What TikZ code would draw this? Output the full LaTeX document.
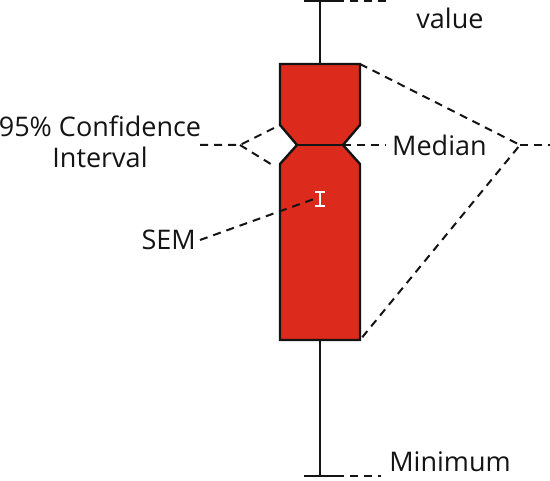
\documentclass[tikz,border=0pt]{standalone}
\usepackage{fontspec}
\setmainfont{Open Sans}
\usepackage{xcolor}
\usetikzlibrary{positioning}
\definecolor{boxred}{RGB}{220,42,28}
\definecolor{inkgray}{RGB}{20,20,20}

\begin{document}
\begin{tikzpicture}[x=1pt,y=-1pt]
    \tikzstyle{label} = [font=\fontsize{27}{31}\selectfont, text=inkgray, inner sep=0pt]
    \tikzstyle{guide} = [draw=inkgray, line width=2pt, dash pattern=on 8pt off 6pt]
    \tikzstyle{outline} = [draw=inkgray, line width=2.4pt]
    \useasboundingbox (0,0) rectangle (550,481);

    % whisker and caps
    \coordinate (maxcap) at (320,1);
    \coordinate (mincap) at (320,476);
    \draw [outline] (maxcap) -- (mincap);
    \draw [outline] ([xshift=-16pt]maxcap) -- ([xshift=16pt]maxcap);
    \draw [outline] ([xshift=-16pt]mincap) -- ([xshift=16pt]mincap);

    % notched box
    \coordinate (boxtl) at (280,64);
    \coordinate (boxtr) at (360,64);
    \coordinate (boxbl) at (280,340);
    \coordinate (boxbr) at (360,340);
    \coordinate (notchlt) at (280,125);
    \coordinate (notchlb) at (280,164);
    \coordinate (notchrt) at (360,125);
    \coordinate (notchrb) at (360,164);
    \coordinate (medl) at (297,145);
    \coordinate (medr) at (343,145);
    \draw [outline, fill=boxred] (boxtl) -- (boxtr) -- (notchrt) -- (medr) -- (notchrb) -- (boxbr)
        -- (boxbl) -- (notchlb) -- (medl) -- (notchlt) -- cycle;
    \draw [outline] (medl) -- (medr);

    % SEM marker
    \coordinate (sem) at (320,199);
    \draw [white, line width=1.8pt] (320,192) -- (320,206) (315,192) -- (325,192) (315,206) -- (325,206);

    % Labels
    \node [label] (value) at (450,18) {value};
    \node [label] (minimum) at (450,462) {Minimum};
    \node [label, anchor=west] (median) at (392,145) {Median};
    \node [label, align=center] (ci) at (100,142) {95\% Confidence\\Interval};
    \node [label, anchor=east] (semlabel) at (196,240) {SEM};

    % guides
    \coordinate (cihub) at (240,145);
    \coordinate (boxhub) at (520,145);
    \coordinate (rightend) at (550,145);
    \draw [guide] ([xshift=16pt]maxcap) -- ++(50,0);
    \draw [guide] ([xshift=16pt]mincap) -- ++(45,0);
    \draw [guide] (medr) -- ([xshift=-6pt]median.west);
    \draw [guide] (boxtr) -- (boxhub) -- (boxbr);
    \draw [guide] (boxhub) -- (rightend);
    \draw [guide] (200,145) -- (cihub) -- (notchlt);
    \draw [guide] (cihub) -- ([shift={(-6pt,-2pt)}]notchlb);
    \draw [guide] ([xshift=4pt]semlabel.east) -- ([xshift=-6pt]sem);
\end{tikzpicture}
\end{document}
